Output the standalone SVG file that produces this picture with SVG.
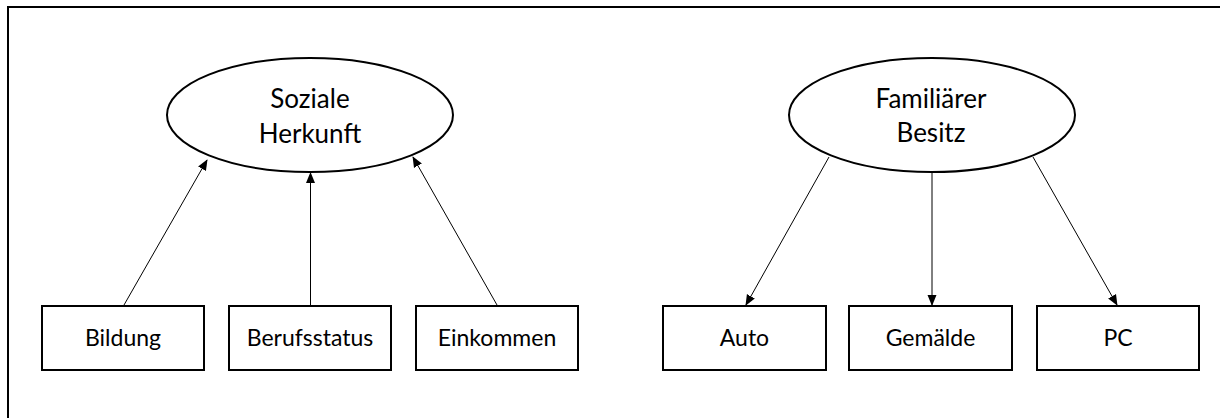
<svg xmlns="http://www.w3.org/2000/svg" width="1220" height="418" viewBox="0 0 1220 418">
<defs>
<marker id="ah" markerWidth="11" markerHeight="10" refX="10" refY="5" orient="auto" markerUnits="userSpaceOnUse">
<path d="M0,0.5 L11,5 L0,9.5 Z" fill="#000"/>
</marker>
<style>
.frame{fill:none;stroke:#000;stroke-width:2}
.ell{fill:#fff;stroke:#000;stroke-width:2}
.box{fill:#fff;stroke:#000;stroke-width:2}
.con{stroke:#000;stroke-width:1;fill:none;marker-end:url(#ah)}
.t1{font-family:Lato,"Liberation Sans",sans-serif;font-size:26px;fill:#000;text-anchor:middle}
.t2{font-family:Lato,"Liberation Sans",sans-serif;font-size:23px;fill:#000;text-anchor:middle}
</style>
</defs>
<rect width="1220" height="418" fill="#fff"/>
<polyline class="frame" points="8,420 8,7 1222,7"/>
<g id="connectors">
<line class="con" x1="124" y1="305" x2="207" y2="160"/>
<line class="con" x1="310.5" y1="305" x2="310.5" y2="173"/>
<line class="con" x1="497" y1="305" x2="413" y2="157"/>
<line class="con" x1="829" y1="157" x2="746" y2="305"/>
<line class="con" x1="932" y1="172" x2="932" y2="305"/>
<line class="con" x1="1033" y1="157" x2="1117" y2="305"/>
</g>
<g id="soziale">
<ellipse class="ell" cx="310" cy="115" rx="143" ry="57"/>
<text class="t1" x="310" y="108">Soziale</text>
<text class="t1" x="310" y="143">Herkunft</text>
</g>
<g id="besitz">
<ellipse class="ell" cx="932" cy="115" rx="143" ry="57"/>
<text class="t1" x="931" y="108">Familiärer</text>
<text class="t1" x="931" y="142">Besitz</text>
</g>
<g id="bildung">
<rect class="box" x="42" y="306" width="162" height="64"/>
<text class="t2" x="123" y="346">Bildung</text>
</g>
<g id="berufsstatus">
<rect class="box" x="229" y="306" width="162" height="64"/>
<text class="t2" x="310" y="346">Berufsstatus</text>
</g>
<g id="einkommen">
<rect class="box" x="416" y="306" width="162" height="64"/>
<text class="t2" x="497" y="346">Einkommen</text>
</g>
<g id="auto">
<rect class="box" x="663" y="306" width="163" height="64"/>
<text class="t2" x="744.5" y="346">Auto</text>
</g>
<g id="gemaelde">
<rect class="box" x="849" y="306" width="163" height="64"/>
<text class="t2" x="930.5" y="346">Gemälde</text>
</g>
<g id="pc">
<rect class="box" x="1037" y="306" width="162" height="64"/>
<text class="t2" x="1118" y="346">PC</text>
</g>
</svg>
